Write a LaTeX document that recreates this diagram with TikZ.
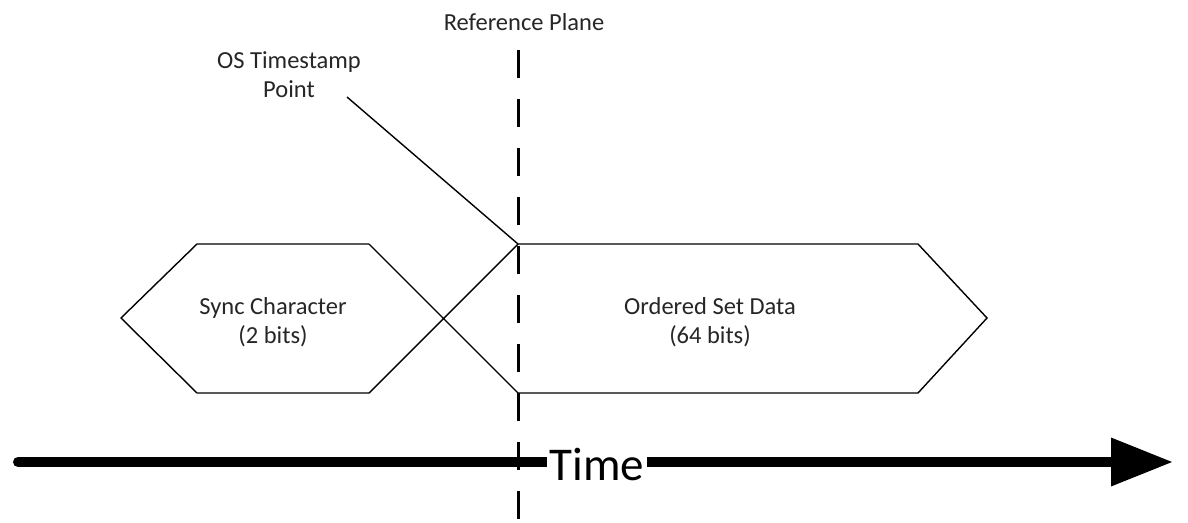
\documentclass[tikz,border=0pt]{standalone}
\usepackage{fontspec}
\setmainfont{Carlito}
\usetikzlibrary{arrows.meta}
\begin{document}
\begin{tikzpicture}[x=1pt,y=-1pt,
  outline/.style={draw=black,line width=1.4pt,line join=miter},
  lbl/.style={text=black!85,font=\fontsize{24.5}{29}\selectfont,align=center,inner sep=0pt},
  refline/.style={draw=black,line width=3pt,dash pattern=on 28pt off 21pt},
  timeline/.style={draw=black,line width=10pt,line cap=round,-{Triangle[length=62pt,width=46pt]}}]
\useasboundingbox (0,0) rectangle (1188,522);
\fill[white] (0,0) rectangle (1188,522);
% corner points of the two bus symbols
\coordinate (sl) at (121,318);
\coordinate (stl) at (197,244);
\coordinate (str) at (369,244);
\coordinate (sbr) at (369,393);
\coordinate (sbl) at (197,393);
\coordinate (otl) at (518,244);
\coordinate (otr) at (918,244);
\coordinate (or) at (987,318);
\coordinate (obr) at (918,393);
\coordinate (obl) at (518,393);
% sync character symbol
\draw[outline] (sbr) -- (sbl) -- (sl) -- (stl) -- (str);
% data symbol, its left edges crossing the sync symbol
\draw[outline] (str) -- (obl) -- (obr) -- (or) -- (otr) -- (otl) -- (sbr);
% reference plane
\coordinate (rtop) at (518,50);
\coordinate (rbot) at (518,522);
\draw[refline] (rtop) -- (rbot);
\node[lbl] (refp) at (524,22) {Reference Plane};
% timestamp label and its leader
\node[lbl] (osts) at (289,75) {OS Timestamp\\Point};
\coordinate (lead) at (347,97);
\draw[line width=1.4pt] (lead) -- (otl);
% texts inside the symbols
\node[lbl] (sync) at (273,322) {Sync Character\\(2 bits)};
\node[lbl] (data) at (710,322) {Ordered Set Data\\(64 bits)};
% time axis
\coordinate (t0) at (18,462);
\coordinate (t1) at (1173,462);
\draw[timeline] (t0) -- (t1);
\node[fill=white,inner xsep=3pt,inner ysep=0pt,text=black,font=\fontsize{47}{50}\selectfont] (time) at (597,464) {Time};
\end{tikzpicture}
\end{document}
